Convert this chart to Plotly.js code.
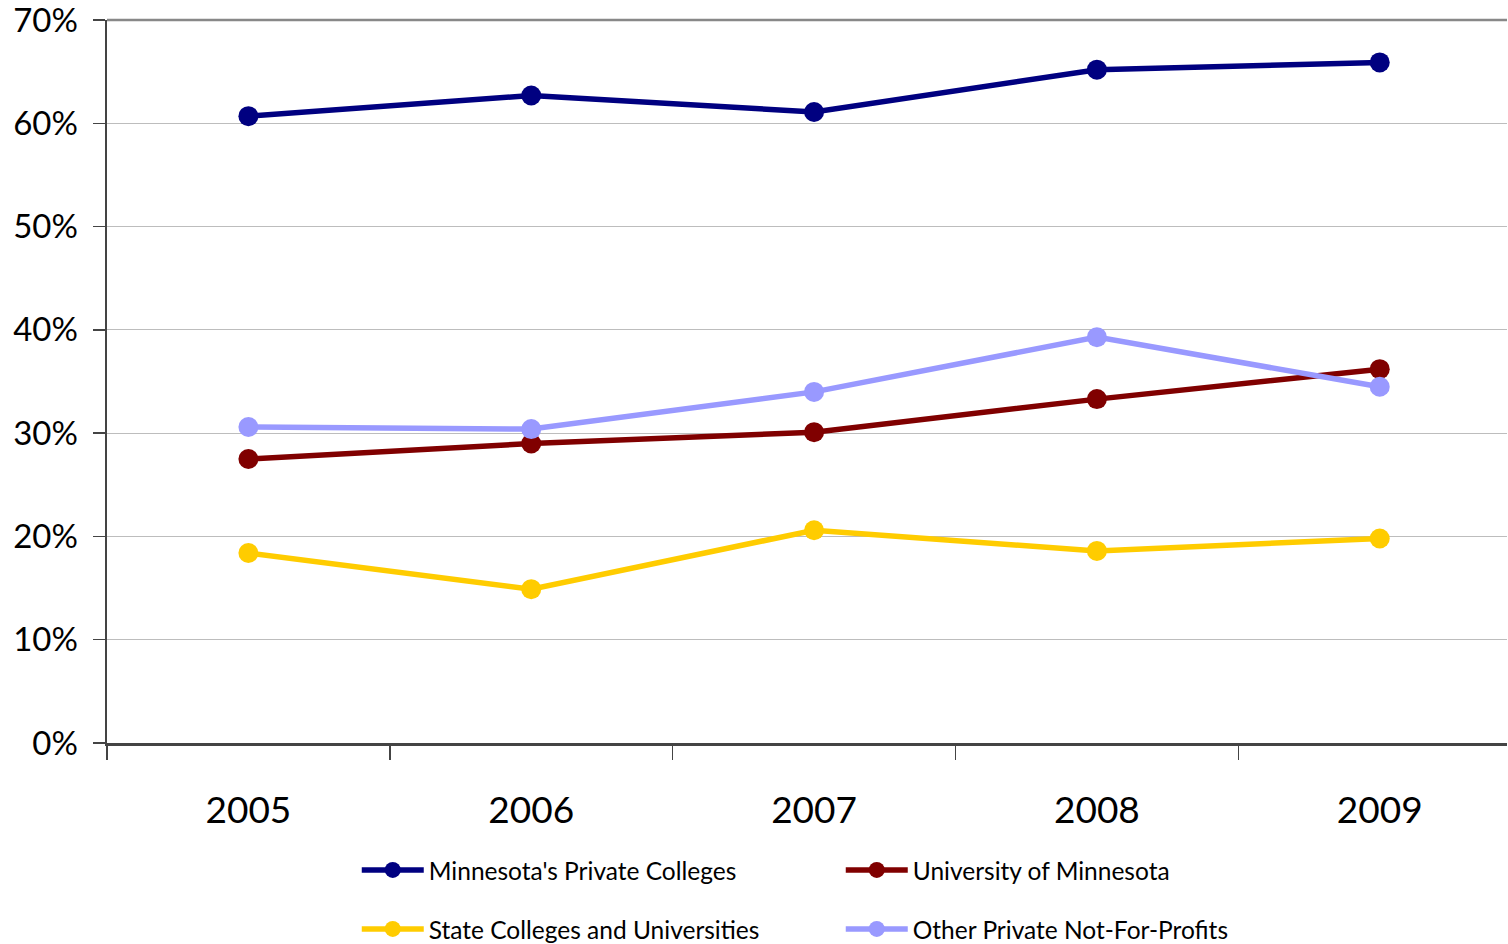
<!DOCTYPE html>
<html>
<head>
<meta charset="utf-8">
<script src="https://cdn.plot.ly/plotly-3.0.1.min.js"></script>
<style>html,body{margin:0;padding:0;background:#fff}#chart{width:1508px;height:944px}</style>
</head>
<body>
<div id="chart"></div>
<script>
const years = ['2005', '2006', '2007', '2008', '2009'];
const mnPrivate = [0.607, 0.627, 0.611, 0.652, 0.659];
const uMinnesota = [0.275, 0.290, 0.301, 0.333, 0.362];
const stateColleges = [0.184, 0.149, 0.206, 0.186, 0.198];
const otherPrivate = [0.306, 0.304, 0.340, 0.393, 0.345];
const yTickVals = [0, 0.1, 0.2, 0.3, 0.4, 0.5, 0.6, 0.7];

function tr(name, y, color, legend) {
  return {
    type: 'scatter', mode: 'lines+markers', name: name, x: years, y: y,
    line: {color: color, width: 5.5},
    marker: {color: color, size: 20},
    legend: legend
  };
}

const data = [
  tr("Minnesota's Private Colleges", mnPrivate, '#000080', 'legend'),
  tr('University of Minnesota', uMinnesota, '#800000', 'legend'),
  tr('State Colleges and Universities', stateColleges, '#FFCC00', 'legend2'),
  tr('Other Private Not-For-Profits', otherPrivate, '#9999FF', 'legend2')
];

const legendBase = {
  orientation: 'h', xanchor: 'left', yanchor: 'middle', x: 0.1784,
  entrywidth: 407, entrywidthmode: 'pixels', itemwidth: 62,
  font: {family: 'Lato, sans-serif', size: 24.5, color: '#000'},
  bgcolor: 'rgba(0,0,0,0)', traceorder: 'normal'
};

const layout = {
  width: 1508, height: 944,
  margin: {l: 107, r: 1, t: 20, b: 201, autoexpand: false},
  paper_bgcolor: '#fff', plot_bgcolor: '#fff',
  showlegend: true,
  font: {family: 'Lato, sans-serif', color: '#000'},
  xaxis: {
    type: 'category', range: [-0.5, 4.45],
    tickson: 'boundaries', ticks: 'outside', ticklen: 14, tickwidth: 1.5, tickcolor: '#444',
    showline: true, linecolor: '#444', linewidth: 2.5,
    showgrid: false, zeroline: false,
    tickfont: {family: 'Lato, sans-serif', size: 37, color: '#000'},
    ticklabelstandoff: 33
  },
  yaxis: {
    range: [0, 0.7001], tickvals: yTickVals, tickformat: '.0%',
    ticks: 'outside', ticklen: 12, tickwidth: 1.5, tickcolor: '#444',
    showline: true, linecolor: '#444', linewidth: 2.5,
    showgrid: true, gridcolor: '#bdbdbd', gridwidth: 1, zeroline: false,
    tickfont: {family: 'Lato, sans-serif', size: 33, color: '#000'},
    ticklabelstandoff: 8, ticklabeloverflow: 'allow'
  },
  shapes: [{type: 'line', xref: 'paper', yref: 'paper', x0: 0, x1: 1, y0: 1, y1: 1,
            line: {color: '#888', width: 2.5}}],
  legend: Object.assign({}, legendBase, {y: -0.1757}),
  legend2: Object.assign({}, legendBase, {y: -0.2573})
};

Plotly.newPlot('chart', data, layout, {displayModeBar: false, staticPlot: true});
</script>
</body>
</html>
